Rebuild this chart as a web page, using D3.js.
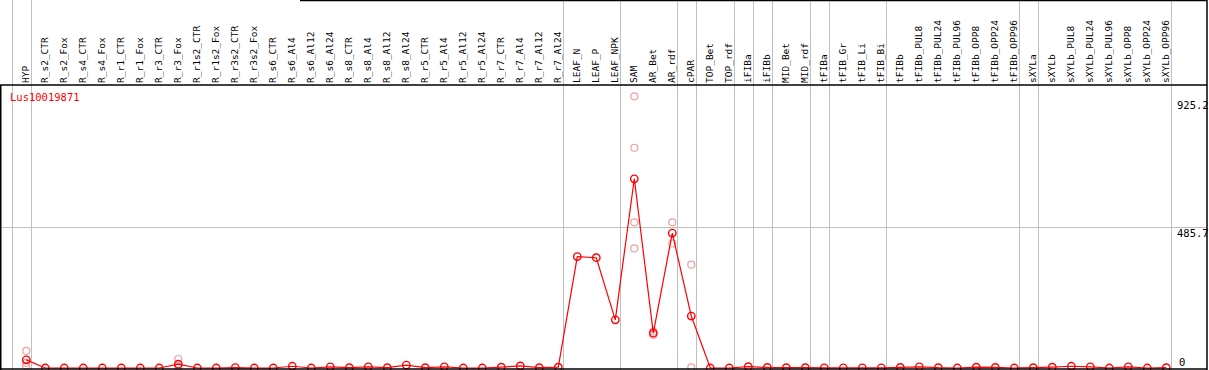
<!DOCTYPE html>
<html lang="en">
<head>
    <meta charset="UTF-8">
    <title>Lus10019871</title>
    <style>
        body { margin: 0; background: #fff; }
        svg { display: block; }
        text { font-family: "DejaVu Sans Mono", monospace; }
    </style>
</head>
<body>
    <svg id="chart" width="1209" height="370"></svg>

    <script src="https://d3js.org/d3.v7.min.js"></script>
    <script>
        // Sample names (column headers)
        const categories = [
            "HYP", "R_s2_CTR", "R_s2_Fox", "R_s4_CTR", "R_s4_Fox", "R_r1_CTR", "R_r1_Fox",
            "R_r3_CTR", "R_r3_Fox", "R_r1s2_CTR", "R_r1s2_Fox", "R_r3s2_CTR", "R_r3s2_Fox",
            "R_s6_CTR", "R_s6_Al4", "R_s6_Al12", "R_s6_Al24", "R_s8_CTR", "R_s8_Al4",
            "R_s8_Al12", "R_s8_Al24", "R_r5_CTR", "R_r5_Al4", "R_r5_Al12", "R_r5_Al24",
            "R_r7_CTR", "R_r7_Al4", "R_r7_Al12", "R_r7_Al24", "LEAF_N", "LEAF_P", "LEAF_NPK",
            "SAM", "AR_Bet", "AR_rdf", "cPAR", "TOP_Bet", "TOP_rdf", "iFIBa", "iFIBb",
            "MID_Bet", "MID_rdf", "tFIBa", "tFIB_Gr", "tFIB_Li", "tFIB_Bi", "tFIBb",
            "tFIBb_PUL8", "tFIBb_PUL24", "tFIBb_PUL96", "tFIBb_OPP8", "tFIBb_OPP24", "tFIBb_OPP96",
            "sXYLa", "sXYLb", "sXYLb_PUL8", "sXYLb_PUL24", "sXYLb_PUL96", "sXYLb_OPP8",
            "sXYLb_OPP24", "sXYLb_OPP96"
        ];

        // mean expression per sample
        const meanValues = [
            28, 0, 0, 0, 0, 0, 0, 0, 13, 0, 0, 1.5, 0,
            0, 6, 0, 4, 1, 4, 1, 10, 1, 4, 0, 0,
            3, 7, 1, 3, 384, 380, 166,
            652, 120, 465, 179, 0, 0, 4.5, 2,
            1, 1, 0.5, 0.5, 0.5, 0.5, 2,
            4, 1, 0, 3, 2, 0,
            1, 3, 6, 4, 0, 4, 0, 1
        ];

        // individual replicates (only where they stand out from the mean)
        const repCategories = ["HYP", "R_r3_Fox", "SAM", "AR_Bet", "AR_rdf", "cPAR"];
        const repValues = [
            [59, 18, 7],
            [31, 5, 3],
            [936, 759, 502, 412],
            [126, 114],
            [502, 429],
            [356, 2]
        ];

        // group separators: a line after each of these samples (plus one before the first)
        const separatorsAfter = [
            "HYP", "R_r7_Al24", "LEAF_NPK", "AR_rdf", "cPAR", "TOP_rdf", "iFIBa",
            "iFIBb", "MID_rdf", "tFIBa", "tFIB_Bi", "tFIBb_OPP96", "sXYLa", "sXYLb_OPP96"
        ];

        const geneName = "Lus10019871";
        const yTicks = [925.2, 485.7, 0];
        const yGrid = [485.7];

        const svg = d3.select("#chart");
        const width = +svg.attr("width");
        const height = +svg.attr("height");
        const headerBottom = 85;
        const right = 1207;

        const x = d3.scalePoint().domain(categories).range([26.3, 1166.3]);
        const step = x.step();
        const y = d3.scaleLinear().domain([0, 925.2]).range([368, 99.5]);

        // horizontal grid
        svg.selectAll(".hgrid").data(yGrid).join("line")
            .attr("x1", 0).attr("x2", right)
            .attr("y1", d => Math.round(y(d)) + 0.5).attr("y2", d => Math.round(y(d)) + 0.5)
            .attr("stroke", "#c0c0c0").attr("stroke-width", 1);

        // vertical separators
        const sepX = [x(categories[0]) - step + 4.4].concat(separatorsAfter.map(c => x(c) + 4.4));
        svg.selectAll(".vsep").data(sepX).join("line")
            .attr("x1", d => Math.round(d) + 0.5).attr("x2", d => Math.round(d) + 0.5)
            .attr("y1", 0).attr("y2", height)
            .attr("stroke", "#c0c0c0").attr("stroke-width", 1);

        // column headers
        svg.selectAll(".hdr").data(categories).join("text")
            .attr("transform", d => `translate(${x(d) + 3},83) rotate(-90)`)
            .attr("font-size", "9.5px")
            .attr("fill", "#000")
            .text(d => d);

        // frame
        const frame = svg.append("g").attr("stroke", "#000").attr("stroke-width", 1.5);
        frame.append("line").attr("x1", 0).attr("x2", right).attr("y1", headerBottom).attr("y2", headerBottom);
        frame.append("line").attr("x1", 300).attr("x2", right).attr("y1", 0.5).attr("y2", 0.5);
        frame.append("line").attr("x1", 0.75).attr("x2", 0.75).attr("y1", headerBottom).attr("y2", height);
        frame.append("line").attr("x1", right).attr("x2", right).attr("y1", 0).attr("y2", height);

        // gene name
        svg.append("text")
            .attr("x", 10).attr("y", 101)
            .attr("font-size", "10.5px")
            .attr("fill", "#ff0000")
            .text(geneName);

        // y tick labels
        svg.selectAll(".ytick").data(yTicks).join("text")
            .attr("x", d => d === 0 ? 1179 : 1177)
            .attr("y", d => Math.min(y(d) + 9.5, 365.5))
            .attr("font-size", "10.5px")
            .attr("fill", "#000")
            .text(d => d);

        // replicate points
        const reps = repCategories.flatMap((c, i) => repValues[i].map(v => ({ c, v })));
        svg.selectAll(".rep").data(reps).join("circle")
            .attr("cx", d => x(d.c)).attr("cy", d => y(d.v))
            .attr("r", 3.5)
            .attr("fill", "none")
            .attr("stroke", "#f0a0a0")
            .attr("stroke-width", 1.2);

        // mean line
        const line = d3.line()
            .x((d, i) => x(categories[i]))
            .y(d => y(d));
        svg.append("path")
            .datum(meanValues)
            .attr("fill", "none")
            .attr("stroke", "#ff0000")
            .attr("stroke-width", 1.2)
            .attr("d", line);

        svg.selectAll(".mean").data(meanValues).join("circle")
            .attr("cx", (d, i) => x(categories[i])).attr("cy", d => y(d))
            .attr("r", 3.7)
            .attr("fill", "none")
            .attr("stroke", "#ff0000")
            .attr("stroke-width", 1.4);

        // bottom border drawn last
        svg.append("line")
            .attr("x1", 0).attr("x2", right).attr("y1", 369).attr("y2", 369)
            .attr("stroke", "#000").attr("stroke-width", 1.5);
    </script>
</body>
</html>
